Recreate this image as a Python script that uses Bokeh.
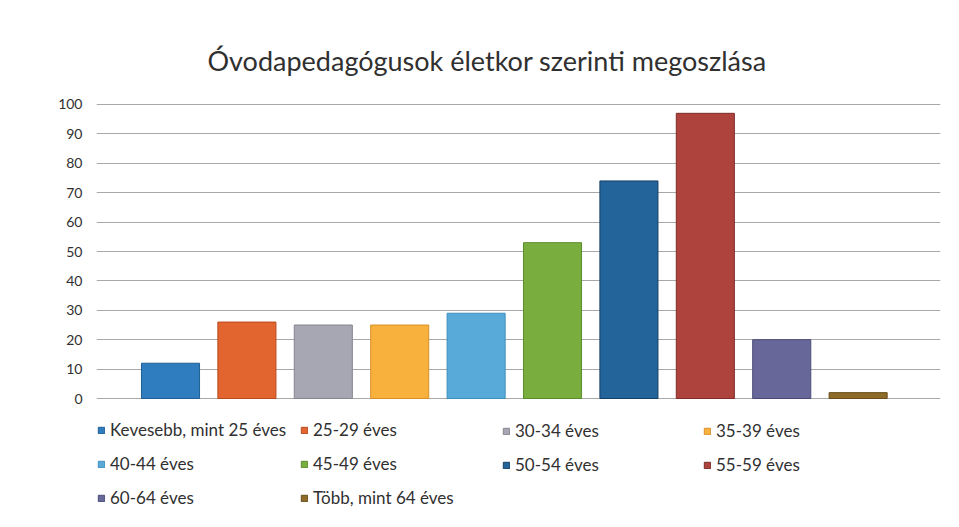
from bokeh.plotting import figure
from bokeh.models import ColumnDataSource, Range1d, FixedTicker, Legend, LegendItem
from bokeh.embed import file_html
from bokeh.resources import INLINE

categories = ["Kevesebb, mint 25 éves", "25-29 éves", "30-34 éves", "35-39 éves",
              "40-44 éves", "45-49 éves", "50-54 éves", "55-59 éves",
              "60-64 éves", "Több, mint 64 éves"]
values = [12, 26, 25, 25, 29, 53, 74, 97, 20, 2]
colors = ["#2f7dbf", "#e2642e", "#a6a7b3", "#f8b13c", "#58abd8",
          "#79ae3e", "#23659b", "#ad433c", "#67679a", "#8d6b29"]
outlines = ["#1f5f95", "#b84a1e", "#85868f", "#d8902a", "#3f8fbd",
            "#5b8c2c", "#163f66", "#7f2c28", "#4a4a78", "#6a4e1a"]
y_ticks = [0, 10, 20, 30, 40, 50, 60, 70, 80, 90, 100]
legend_columns = [[0, 4, 8], [1, 5, 9], [2, 6], [3, 7]]

FONT = "Lato"

FRAME_TOP = 88
FRAME_BOTTOM_BORDER = 0
p = figure(width=943, height=511, output_backend="svg", toolbar_location=None,
           x_range=Range1d(-0.9686, 10.078), y_range=Range1d(-38.43, 105.44),
           min_border_left=96, min_border_right=3, min_border_top=FRAME_TOP,
           min_border_bottom=FRAME_BOTTOM_BORDER,
           title="Óvodapedagógusok életkor szerinti megoszlása")
p.title.align = "left"
p.title.offset = 111
p.title.text_font = FONT
p.title.text_font_size = "27px"
p.title.text_font_style = "normal"
p.title.text_color = "#303030"
p.title.standoff = 24

p.outline_line_color = None
p.background_fill_color = "white"
p.border_fill_color = "white"

p.xaxis.visible = False
p.xgrid.visible = False

p.yaxis.ticker = FixedTicker(ticks=y_ticks)
p.yaxis.axis_line_color = None
p.yaxis.major_tick_line_color = None
p.yaxis.minor_tick_line_color = None
p.yaxis.major_tick_out = 0
p.yaxis.major_tick_in = 0
p.yaxis.major_label_text_font = FONT
p.yaxis.major_label_text_font_size = "14px"
p.yaxis.major_label_text_color = "#303030"
p.yaxis.major_label_standoff = 14
p.ygrid.grid_line_color = "#a8a8a8"
p.ygrid.grid_line_width = 1.2

renderers = []
for i, (cat, v) in enumerate(zip(categories, values)):
    src = ColumnDataSource(dict(x=[i], top=[v]))
    r = p.vbar(x="x", top="top", bottom=0, width=0.76, source=src,
               fill_color=colors[i], line_color=outlines[i], line_width=1)
    renderers.append(r)

frame_bottom = 511 - FRAME_BOTTOM_BORDER
first_row_top = 422
col_x = [1, 204, 406, 607]
for ci, idxs in enumerate(legend_columns):
    items = [LegendItem(label=categories[k], renderers=[renderers[k]]) for k in idxs]
    n = len(idxs)
    height = n * 20 + (n - 1) * 13
    vy = frame_bottom - (first_row_top + height)
    leg = Legend(items=items, location=(col_x[ci], vy),
                 orientation="vertical", glyph_width=8, glyph_height=8,
                 label_height=20, spacing=13, padding=0, margin=0,
                 label_standoff=5, label_text_font=FONT, label_text_font_size="17px",
                 label_text_color="#303030", border_line_color=None,
                 background_fill_alpha=0)
    p.add_layout(leg, "center")

open("out.html", "w").write(file_html(p, INLINE))
